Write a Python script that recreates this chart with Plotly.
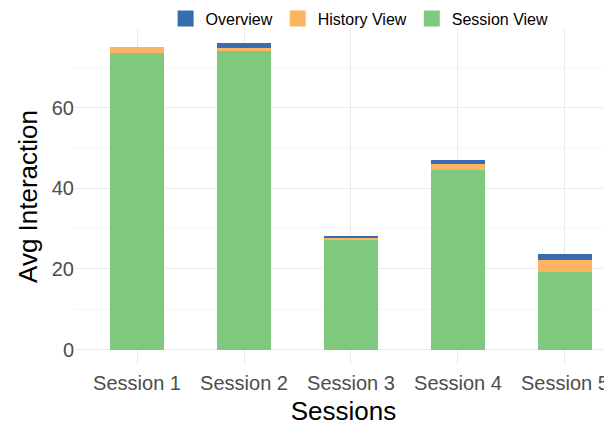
import plotly.graph_objects as go

sessions = ["Session 1", "Session 2", "Session 3", "Session 4", "Session 5"]
session_view = [73.4, 73.9, 27.3, 44.5, 19.2]
history_view = [1.5, 0.8, 0.3, 1.6, 3.0]
overview = [0.0, 1.2, 0.5, 0.8, 1.6]

colors = {"Session View": "#7fc97f", "History View": "#fdb462", "Overview": "#386cb0"}

fig = go.Figure()
for name, vals in [("Session View", session_view), ("History View", history_view), ("Overview", overview)]:
    fig.add_trace(go.Bar(x=sessions, y=vals, name=name, showlegend=False,
                         marker=dict(color=colors[name], line=dict(width=0)), width=0.5))
# legend entries with larger square swatches
for name in ["Session View", "History View", "Overview"]:
    fig.add_trace(go.Scatter(x=[None], y=[None], mode="markers", name=name,
                             marker=dict(symbol="square", size=17, color=colors[name])))

fig.update_layout(
    barmode="stack",
    width=604, height=419,
    margin=dict(l=67, r=0, t=20, b=62, autoexpand=False),
    plot_bgcolor="white", paper_bgcolor="white",
    font=dict(family="Liberation Sans, Arial, sans-serif"),
    legend=dict(orientation="h", traceorder="reversed", x=0.53, xanchor="center",
                yref="container", y=0.975, yanchor="middle",
                font=dict(size=16, color="black"), itemwidth=30, bgcolor="rgba(0,0,0,0)",
                tracegroupgap=0),
    showlegend=True,
)
fig.update_xaxes(
    title=dict(text="Sessions", font=dict(size=26, color="black"), standoff=8),
    tickfont=dict(size=20, color="#4d4d4d"), ticklabelstandoff=4,
    showgrid=True, gridcolor="#ebebeb", gridwidth=1.2,
    range=[-0.58, 4.44], ticks="", showline=False, zeroline=False,
)
fig.update_yaxes(
    title=dict(text="Avg Interaction", font=dict(size=26, color="black"), standoff=6),
    tickfont=dict(size=20, color="#4d4d4d"),
    range=[-3.8, 79.7], tickvals=[0, 20, 40, 60],
    showgrid=True, gridcolor="#ebebeb", gridwidth=1.2,
    minor=dict(tickvals=[10, 30, 50, 70], showgrid=True, gridcolor="#f5f5f5", gridwidth=0.8),
    ticks="", showline=False, zeroline=False,
)
fig.write_html("out.html")
